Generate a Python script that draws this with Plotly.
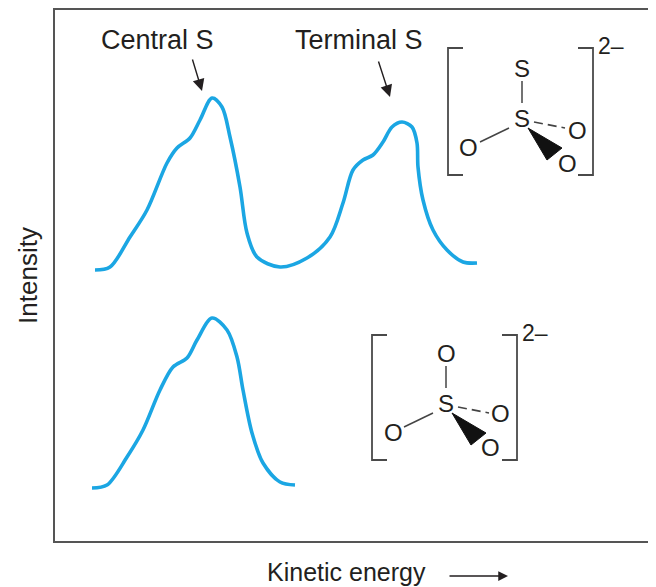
import plotly.graph_objects as go

# Spectra (x = kinetic energy, y = intensity, arbitrary units)
thio_x = [40, 55, 75, 92, 112, 122, 135, 145, 157, 167, 175, 185, 192, 202, 225,
          252, 275, 288, 298, 308, 318, 328, 337, 347, 357, 362, 363, 368, 378, 392, 408, 422]
thio_y = [271, 274, 304, 331, 378, 393, 403, 421, 443, 434, 404, 354, 308, 284, 274,
          283, 304, 338, 371, 381, 386, 399, 414, 419, 414, 398, 374, 341, 311, 291, 279, 278]

sulf_x = [37, 52, 72, 88, 105, 118, 132, 142, 157, 172, 182, 188, 197, 208, 225, 240]
sulf_y = [53, 56, 84, 111, 151, 174, 183, 201, 223, 211, 184, 151, 108, 78, 59, 56]

# Labels
peak_labels = ["Central S", "Terminal S"]
x_label = "Kinetic energy"
y_label = "Intensity"

# Molecule drawings: atoms (label, x, y) relative to central S
thio_atoms = [("S", 0, 50), ("S", 0, 0), ("O", -54, -29), ("O", 55, -12), ("O", 45, -45)]
sulf_atoms = [("O", 0, 50), ("S", 0, 0), ("O", -53, -29), ("O", 54, -10), ("O", 44, -44)]

line_col = "#1BA6E3"
ink = "#231F20"
font = "Liberation Sans, Arial, Helvetica, sans-serif"

fig = go.Figure()
fig.add_trace(go.Scatter(x=thio_x, y=thio_y, mode="lines",
                         line=dict(color=line_col, width=3.6, shape="spline", smoothing=0.9),
                         hoverinfo="skip"))
fig.add_trace(go.Scatter(x=sulf_x, y=sulf_y, mode="lines",
                         line=dict(color=line_col, width=3.6, shape="spline", smoothing=0.9),
                         hoverinfo="skip"))

# peak labels with arrows: (head x, head y, tail x, tail y)
peaks = [(147, 450, 137, 483), (335, 444, 323, 481)]
for px, py, lx, ly in peaks:
    fig.add_annotation(x=px, y=py, ax=lx, ay=ly, xref="x", yref="y", axref="x", ayref="y",
                       text="", showarrow=True, arrowhead=2, arrowsize=1.7, arrowwidth=1.4,
                       arrowcolor=ink, standoff=0)
for text, tx in zip(peak_labels, [102, 304]):
    fig.add_annotation(x=tx, y=501, xref="x", yref="y", text=text, showarrow=False,
                       font=dict(family=font, size=27, color=ink))


def molecule(cx, cy, atoms, left, right, top, bottom):
    # brackets
    for xb, d in [(left, 1), (right, -1)]:
        fig.add_shape(type="path", xref="x", yref="y",
                      path=f"M {xb + 15 * d} {top} L {xb} {top} L {xb} {bottom} L {xb + 15 * d} {bottom}",
                      line=dict(color="#4a4a4a", width=1.8))
    fig.add_annotation(x=right + 3, y=top + 2, xref="x", yref="y", text="2–", showarrow=False,
                       xanchor="left", font=dict(family=font, size=23, color=ink))
    # bonds
    fig.add_shape(type="line", xref="x", yref="y", x0=cx, y0=cy + 15, x1=cx, y1=cy + 37,
                  line=dict(color="#444444", width=1.5))
    fig.add_shape(type="line", xref="x", yref="y", x0=cx - 13, y0=cy - 10, x1=cx - 42, y1=cy - 24,
                  line=dict(color="#444444", width=1.5))
    fig.add_shape(type="line", xref="x", yref="y", x0=cx + 12, y0=cy - 4, x1=cx + 43, y1=cy - 10,
                  line=dict(color="#444444", width=1.6, dash="9px,5px"))
    fig.add_shape(type="path", xref="x", yref="y", fillcolor="#111111",
                  path=f"M {cx + 6} {cy - 10} L {cx + 25} {cy - 42} L {cx + 40} {cy - 30} Z",
                  line=dict(color="#111111", width=1))
    for lab, dx, dy in atoms:
        fig.add_annotation(x=cx + dx, y=cy + dy, xref="x", yref="y", text=lab, showarrow=False,
                           font=dict(family=font, size=24, color=ink))


molecule(467, 423, thio_atoms, 393, 538, 493, 366)
molecule(391, 138, sulf_atoms, 317, 462, 206, 81)

# x label below the frame (paper coords so it is not hidden)
fig.add_annotation(x=291 / 601, y=-31 / 531, xref="paper", yref="paper", text=x_label,
                   yanchor="middle", showarrow=False, font=dict(family=font, size=25, color=ink))
fig.add_annotation(x=453 / 601, y=-35 / 531, ax=-60, ay=0, xref="paper", yref="paper",
                   text="", showarrow=True, arrowhead=2, arrowsize=1.3, arrowwidth=1.5,
                   arrowcolor=ink, standoff=0)

fig.update_xaxes(range=[0, 601], showgrid=False, zeroline=False, showticklabels=False,
                 showline=True, linecolor="#555555", linewidth=2, mirror=True, ticks="")
fig.update_yaxes(range=[0, 531], showgrid=False, zeroline=False, showticklabels=False,
                 showline=True, linecolor="#555555", linewidth=2, ticks="",
                 title=dict(text=y_label, font=dict(family=font, size=26, color=ink), standoff=8))
# page body has an 8px margin, so the figure is 8px smaller and margins shifted
fig.update_layout(width=648, height=579, showlegend=False,
                  margin=dict(l=47, r=0, t=2, b=46, autoexpand=False),
                  plot_bgcolor="white", paper_bgcolor="white")

fig.write_html("out.html")
